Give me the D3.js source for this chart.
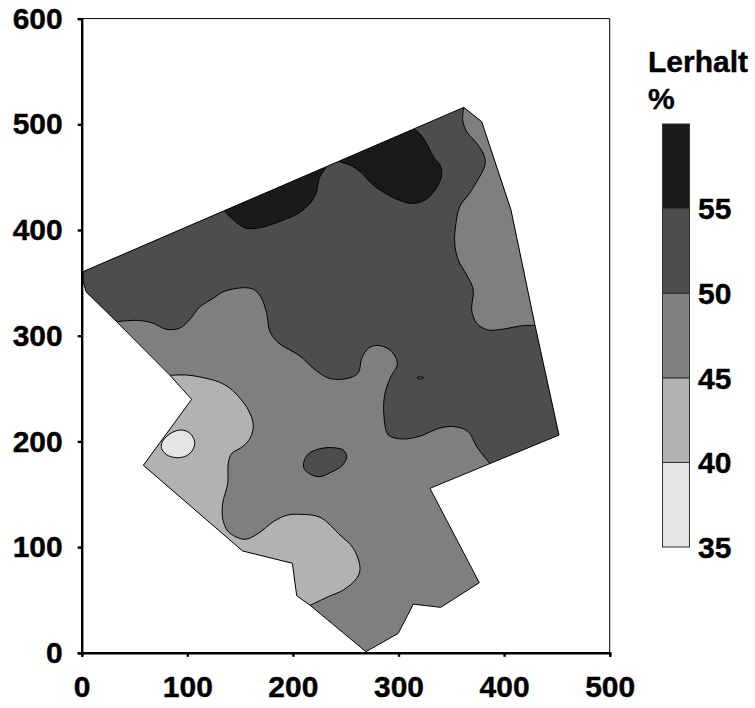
<!DOCTYPE html>
<html lang="en">
<head>
    <meta charset="UTF-8">
    <title>Lerhalt</title>
    <script src="https://d3js.org/d3.v7.min.js"></script>
    <style>
        html, body { margin: 0; padding: 0; background: #fff; }
        svg { display: block; }
        text { font-family: "Liberation Sans", Arial, sans-serif; font-weight: bold; fill: #000; stroke: #000; stroke-width: 0.4px; }
    </style>
</head>
<body>
    <script>
        const xTicks = [0, 100, 200, 300, 400, 500];
        const yTicks = [0, 100, 200, 300, 400, 500, 600];
        const legendTicks = [35, 40, 45, 50, 55];
        const legendBands = [[35, 40], [40, 45], [45, 50], [50, 55], [55, 60]];
        const bandColors = ['#e5e5e5', '#b2b2b2', '#7f7f7f', '#4d4d4d', '#1a1a1a'];

        // field outline, in field coordinates
        const outline = [[1, 360.5], [361.8, 516], [378.8, 502.5], [406.5, 419], [429.3, 309.8], [452, 206],
            [329.8, 155.6], [376.5, 66.3], [340, 43], [314, 46], [299.8, 18.4], [269.2, 1], [216.2, 45],
            [203.6, 54], [199.5, 84.7], [152.4, 96.3], [58.4, 177.4], [104.1, 239.8], [83.6, 262.5],
            [33.1, 313.2], [4.1, 341.6], [1.5, 351]];

        // contour lines: the closing points sit outside the outline and get clipped
        const contour50 = [[33.1, 313.2], [52.1, 314.5], [66.3, 312.3], [80.5, 306], [93.1, 307.3], [101.9, 314.8],
            [112, 327.4], [124.6, 335.4], [134.1, 341.6], [153, 345.4], [162.5, 343.9], [169.5, 336.9],
            [175.2, 321.2], [178.3, 303.8], [186.2, 293.4], [206.7, 280.8], [219.3, 269.1], [232, 260.6],
            [240.5, 258.7], [254.1, 260.2], [261.9, 265], [265.2, 278.6], [271.4, 288], [279.4, 290.9],
            [292, 286.4], [298.9, 273.9], [292, 259.7], [286.6, 242.3], [286.6, 220.2], [290.4, 206],
            [304.6, 202.3], [320.4, 205.1], [339.3, 212.7], [353.5, 213.9], [366.1, 209.2], [374.1, 195],
            [386.7, 178.9]];
        const closing50 = [[453, 173], [510, 334], [377, 570], [-20, 381], [-20, 305]];

        const contour55a = [[135.7, 417.2], [146.8, 406.9], [154.6, 402.1], [162.5, 401.2], [175.2, 403.8],
            [190.9, 409.4], [205.1, 415.8], [216.2, 425.2], [221.9, 434.7], [225, 448.9], [231.3, 459.3]];
        const closing55a = [[235, 485], [131, 438]];

        const contour55b = [[244, 464.6], [254, 461.5], [263.6, 455.3], [276.1, 442.5], [290.4, 433.1],
            [304.6, 426.7], [314, 425.2], [325.1, 428.3], [334.6, 437.8], [340.9, 452], [339.3, 461.5],
            [333, 469.3], [328.2, 478.8], [322, 489], [315.6, 495.2]];
        const closing55b = [[315.6, 523], [244.6, 494.7]];

        const contourEast = [[361.8, 516], [360.8, 504], [364.6, 493], [374.1, 482], [380.9, 470.9], [381.9, 461.5],
            [374.1, 445.7], [366.1, 433.1], [358.2, 422.7], [354.4, 406.3], [353.2, 387.4], [356.6, 371.6],
            [364.6, 357.4], [370.8, 343.2], [369.3, 324.3], [374.1, 311.7], [385, 305.4], [399.2, 306.3],
            [416.7, 309.4], [429.3, 309.8]];
        const closingEast = [[509, 313], [510, 523], [368, 561]];

        const contour45 = [[83.6, 262.5], [99.4, 262.8], [113.6, 260.6], [129.4, 256.4], [140.4, 250.2],
            [149.9, 240.8], [157.8, 229.7], [162.5, 215.5], [159.4, 202.9], [151.5, 194.4], [142.1, 188.7],
            [138.8, 179.3], [138.3, 160.3], [133.5, 141.4], [133.5, 127.2], [138.8, 114.6], [154.6, 107.4],
            [167.2, 113], [181.4, 124], [194.1, 130.1], [206.7, 131], [225.7, 128.2], [244.6, 111.4],
            [257.2, 98.9], [263.6, 79.9], [260.4, 70.5], [247.7, 59.4], [233.5, 53.1], [216.2, 44.9]];
        const closing45 = [[197, 31], [17, 144.5], [36, 239]];

        const blob40 = [[77.3, 201.3], [85.2, 208.2], [94.7, 210.8], [102.6, 207.6], [107, 199.7], [105.1, 191.9],
            [99.4, 186.5], [91.5, 184.6], [82, 186.5], [76.3, 191.9], [75.4, 196.6]];
        const blobCentre = [[210.5, 180.8], [214.6, 188.1], [225.7, 193.1], [238.3, 194], [247.7, 191.8], [251, 185.5],
            [246.2, 176.7], [235.1, 170.4], [225.7, 166.6], [216.2, 169.1], [210.5, 174.5]];
        const blobTiny = [[317.5, 260.2], [320.4, 261], [324, 260.3], [320.4, 259.1]];

        const svg = d3.select('body').append('svg')
            .attr('width', 755)
            .attr('height', 708);

        const x = d3.scaleLinear().domain([0, 500]).range([81.7, 609.7]);
        const y = d3.scaleLinear().domain([0, 600]).range([652.8, 18.6]);
        const legendY = d3.scaleLinear().domain([35, 60]).range([547, 124]);

        const smooth = d3.line().x(d => x(d[0])).y(d => y(d[1])).curve(d3.curveCatmullRom.alpha(0.5));
        const straight = d3.line().x(d => x(d[0])).y(d => y(d[1]));
        const closed = d3.line().x(d => x(d[0])).y(d => y(d[1])).curve(d3.curveCatmullRomClosed.alpha(0.5));

        svg.append('clipPath').attr('id', 'field')
            .append('path').attr('d', straight(outline) + 'Z');

        // plot frame
        svg.append('path')
            .attr('d', `M${x(0)},${y(600)}H${x(500)}V${y(0)}`)
            .attr('fill', 'none').attr('stroke', '#000').attr('stroke-width', 1);

        const field = svg.append('g').attr('clip-path', 'url(#field)');

        // base band first, then each band over it
        field.append('path').attr('d', straight(outline) + 'Z').attr('fill', bandColors[2]);

        const regions = [
            [contour50, closing50, bandColors[3]],
            [contourEast, closingEast, bandColors[2]],
            [contour55a, closing55a, bandColors[4]],
            [contour55b, closing55b, bandColors[4]],
            [contour45, closing45, bandColors[1]]
        ];
        regions.forEach(([line, closing, color]) => {
            field.append('path')
                .attr('d', smooth(line) + straight(closing).replace('M', 'L') + 'Z')
                .attr('fill', color);
            field.append('path')
                .attr('d', smooth(line))
                .attr('fill', 'none').attr('stroke', '#000').attr('stroke-width', 1);
        });

        [[blob40, bandColors[0]], [blobCentre, bandColors[3]], [blobTiny, bandColors[2]]].forEach(([blob, color]) => {
            field.append('path')
                .attr('d', closed(blob))
                .attr('fill', color).attr('stroke', '#000').attr('stroke-width', 1);
        });

        svg.append('path')
            .attr('d', straight(outline) + 'Z')
            .attr('fill', 'none').attr('stroke', '#000').attr('stroke-width', 1);

        // axes
        const xAxis = svg.append('g')
            .attr('transform', `translate(0,${y(0)})`)
            .call(d3.axisBottom(x).tickValues(xTicks).tickFormat(d3.format('d')).tickSize(4).tickPadding(19));
        const yAxis = svg.append('g')
            .attr('transform', `translate(${x(0)},0)`)
            .call(d3.axisLeft(y).tickValues(yTicks).tickFormat(d3.format('d')).tickSize(4).tickPadding(15));

        [xAxis, yAxis].forEach(axis => {
            axis.selectAll('.domain').attr('stroke-width', 2.4).attr('stroke', '#000');
            axis.selectAll('.tick line').attr('stroke-width', 2.4).attr('stroke', '#000');
            axis.selectAll('text').style('font-size', '30px').style('font-family', '"Liberation Sans", Arial, sans-serif').style('font-weight', 'bold');
        });
        xAxis.selectAll('text').attr('dy', '0.71em');

        // legend
        const legend = svg.append('g');
        legend.selectAll('rect')
            .data(legendBands)
            .enter().append('rect')
            .attr('x', 662.5)
            .attr('width', 27)
            .attr('y', d => legendY(d[1]))
            .attr('height', d => legendY(d[0]) - legendY(d[1]))
            .attr('fill', (d, i) => bandColors[i])
            .attr('stroke', '#333')
            .attr('stroke-width', 1);

        legend.selectAll('.legend-label')
            .data(legendTicks)
            .enter().append('text')
            .attr('class', 'legend-label')
            .attr('x', 698)
            .attr('y', d => legendY(d))
            .attr('dy', '0.36em')
            .style('font-size', '30px')
            .text(d => d);

        svg.append('text').attr('x', 648).attr('y', 72).style('font-size', '30px').text('Lerhalt');
        svg.append('text').attr('x', 648).attr('y', 109).style('font-size', '30px').text('%');
    </script>
</body>
</html>
